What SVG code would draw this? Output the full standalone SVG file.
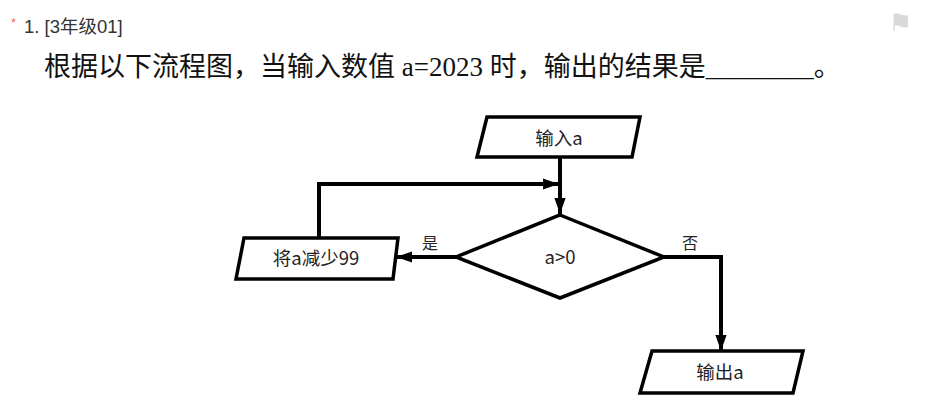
<svg xmlns="http://www.w3.org/2000/svg" width="932" height="411" viewBox="0 0 932 411">
<style>
.box{fill:#fff;stroke:#000;stroke-width:3.5;stroke-linejoin:miter}
.lbl{font-family:"Noto Sans CJK SC","Noto Sans",sans-serif;font-size:18.5px;fill:#222;text-anchor:middle}
.edge{fill:none;stroke:#000;stroke-width:4}
.elbl{font-family:"Noto Sans CJK SC",sans-serif;font-size:16px;fill:#222}
</style>
<defs>
<marker id="arr" viewBox="0 0 10 10" refX="10" refY="5" markerWidth="4" markerHeight="4" markerUnits="strokeWidth" orient="auto">
<path d="M0,1.5 L10,5 L0,8.5 Z" fill="#000"/>
</marker>
</defs>
<rect width="932" height="411" fill="#fff"/>
<text x="11" y="27" font-family="Liberation Sans,sans-serif" font-size="13" fill="#f07060">*</text>
<text x="24" y="33" font-family="'Liberation Sans','Noto Sans CJK SC',sans-serif" font-size="18.5" fill="#333">1. [3年级01]</text>
<text x="44" y="76" font-family="'Liberation Serif','Noto Sans CJK SC',serif" font-size="27" fill="#111">根据以下流程图，当输入数值 a=2023 时，输出的结果是________。</text>
<g id="flag" fill="#d9d9d9">
<path d="M894,14 C899,12 903,17 908,15 L908,27 C903,29 899,24 894,26 Z"/>
<rect x="893.5" y="14" width="1.5" height="17"/>
</g>
<g id="connectors">
<path class="edge" d="M560,157 V214" marker-end="url(#arr)"/>
<path class="edge" d="M319,238 V184 H559" marker-end="url(#arr)"/>
<path class="edge" d="M456,257 H396" marker-end="url(#arr)"/>
<path class="edge" d="M664,257 H721 V351" marker-end="url(#arr)"/>
<text class="elbl" x="422" y="249">是</text>
<text class="elbl" x="682" y="249">否</text>
</g>
<g id="input">
<polygon class="box" points="487,117 640,117 632,157 477,157"/>
<text class="lbl" x="559" y="145">输入a</text>
</g>
<g id="decision">
<polygon class="box" points="560,215 664,257 560,298 456,257"/>
<text class="lbl" x="560" y="264">a&gt;0</text>
</g>
<g id="decrease">
<polygon class="box" points="244,238 398,238 393,279 236,279"/>
<text class="lbl" x="316" y="265">将a减少99</text>
</g>
<g id="output">
<polygon class="box" points="652,351 803,351 793,393 640,393"/>
<text class="lbl" x="720" y="379">输出a</text>
</g>
</svg>
